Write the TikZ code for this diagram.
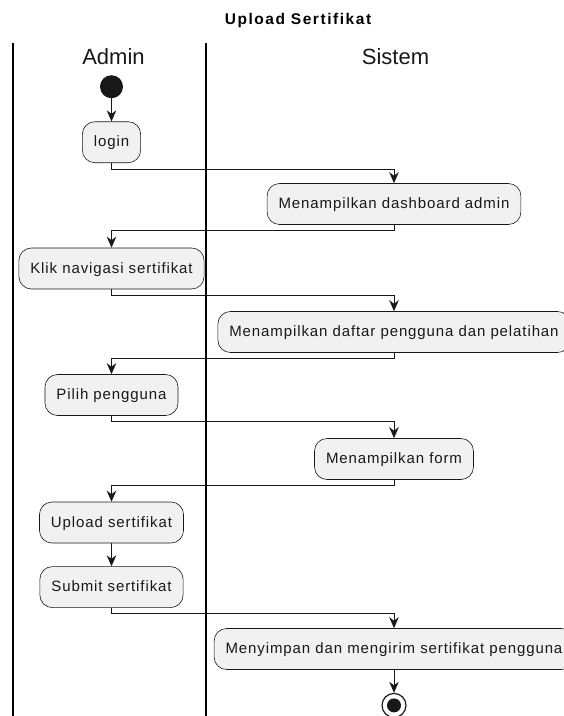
\documentclass[tikz,border=0pt]{standalone}
\usepackage{fontspec}
\setmainfont{Liberation Sans}
\newfontfamily\actfont[LetterSpace=6]{Liberation Sans}
\newfontfamily\headfont[LetterSpace=10]{Liberation Sans}
\usepackage{tikz}
\usetikzlibrary{positioning,arrows.meta}
\definecolor{ink}{RGB}{24,24,24}
\definecolor{actfill}{RGB}{241,241,241}
\tikzset{
  ac/.style={rectangle, rounded corners=12.5pt, minimum height=41pt, inner xsep=11.5pt, text height=10.5pt, text depth=1pt, text centered, draw=ink, line width=0.6pt, fill=actfill, font=\actfont\fontsize{15}{18}\selectfont, text=ink},
  st/.style={circle, minimum size=23pt, inner sep=0pt, fill=ink, draw=none},
  en/.style={circle, minimum size=24pt, inner sep=0pt, fill=white, draw=ink, line width=1.2pt, path picture={\fill[ink] (path picture bounding box.center) circle (7pt);}},
  ln/.style={line width=1.6pt, black},
  lt/.style={anchor=base, font=\fontsize{22}{26}\selectfont, text=ink},
  fl/.style={ink, line width=1pt, -{Stealth[length=11pt, width=9.5pt, inset=3.5pt]}},
  node distance=23pt
}
\begin{document}
\begin{tikzpicture}[x=1pt, y=-1pt]
	\useasboundingbox (0,0) rectangle (564,716);
	\node[anchor=base, font=\headfont\bfseries\fontsize{15.5}{18}\selectfont] (title) at (298,24) {Upload Sertifikat};
	% swimlanes
	\draw[ln] (13,43) -- (13,716);
	\draw[ln] (206,43) -- (206,716);
	\node[lt] (admin) at (113.5,64) {Admin};
	\node[lt] (sistem) at (395.5,64) {Sistem};
	%
	\node[st] (start) at (111.5,86.7) {};
	\node[ac, below=of start] (login) {login};
	\node[ac] (dash) at (394,204) {Menampilkan dashboard admin};
	\node[ac] (klik) at (111.5,268.5) {Klik navigasi sertifikat};
	\node[ac] (daftar) at (394,332) {Menampilkan daftar pengguna dan pelatihan};
	\node[ac] (pilih) at (111.5,395) {Pilih pengguna};
	\node[ac] (form) at (394,459) {Menampilkan form};
	\node[ac] (upload) at (111.5,522.5) {Upload sertifikat};
	\node[ac, below=of upload] (submit) {Submit sertifikat};
	\node[ac] (simpan) at (394,649) {Menyimpan dan mengirim sertifikat pengguna};
	\node[en, below=of simpan] (stop) {};
	%
	\draw[fl] (start) -- (login);
	\draw[fl] (login.south) -- ++(0,6) -| (dash.north);
	\draw[fl] (dash.south) -- ++(0,6) -| (klik.north);
	\draw[fl] (klik.south) -- ++(0,6) -| (daftar.north);
	\draw[fl] (daftar.south) -- ++(0,6) -| (pilih.north);
	\draw[fl] (pilih.south) -- ++(0,6) -| (form.north);
	\draw[fl] (form.south) -- ++(0,6) -| (upload.north);
	\draw[fl] (upload) -- (submit);
	\draw[fl] (submit.south) -- ++(0,6) -| (simpan.north);
	\draw[fl] (simpan) -- (stop);
\end{tikzpicture}
\end{document}
